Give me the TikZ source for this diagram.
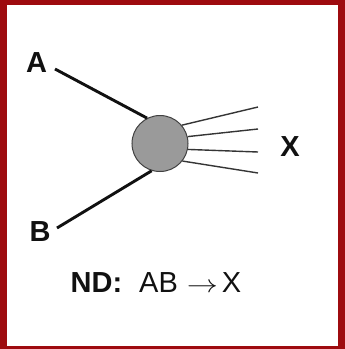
\documentclass[tikz,border=0pt]{standalone}
\usepackage{fontspec}
\setmainfont{Liberation Sans}
\usetikzlibrary{calc}
\definecolor{frame}{HTML}{9E0B0F}
\definecolor{blobfill}{HTML}{9A9A9A}
\definecolor{ink}{HTML}{111111}
\begin{document}
\begin{tikzpicture}[x=1pt,y=-1pt,
    lbl/.style={font=\fontsize{29}{33}\selectfont\bfseries, text=ink, inner sep=0pt},
    beam/.style={ink, line width=2.9pt},
    fan/.style={ink!85, line width=1.4pt}]
  \useasboundingbox (0,0) rectangle (345,349);
  % frame
  \fill[frame] (0,0) rectangle (345,349);
  \fill[white] (7,5) rectangle (338,346);
  % blob and incoming lines
  \node[circle, fill=blobfill, draw=ink!80, line width=1pt,
        minimum size=56pt, inner sep=0pt] (blob) at (160,143.5) {};
  \node[lbl] (lblA) at (36.5,63) {A};
  \node[lbl] (lblB) at (40,232) {B};
  \node[lbl] (lblX) at (290,147) {X};
  \coordinate (inA) at (55,69);
  \coordinate (inB) at (57,228);
  \draw[beam] (inA) -- (blob.117);
  \draw[beam] (inB) -- (blob.253);
  \foreach \ang/\ey [count=\i] in {40/107,14/129,-12/152,-38/173}{
    \coordinate (out\i) at (258,\ey);
    \draw[fan] (blob.\ang) -- (out\i);}
  \node[text=ink, font=\fontsize{29}{33}\selectfont, inner sep=0pt] (eq) at (156,283)
        {\textbf{ND:}\hspace{17pt}AB\hspace{9pt}\scalebox{1.25}[1]{$\rightarrow$}\hspace{4pt}X};
\end{tikzpicture}
\end{document}
